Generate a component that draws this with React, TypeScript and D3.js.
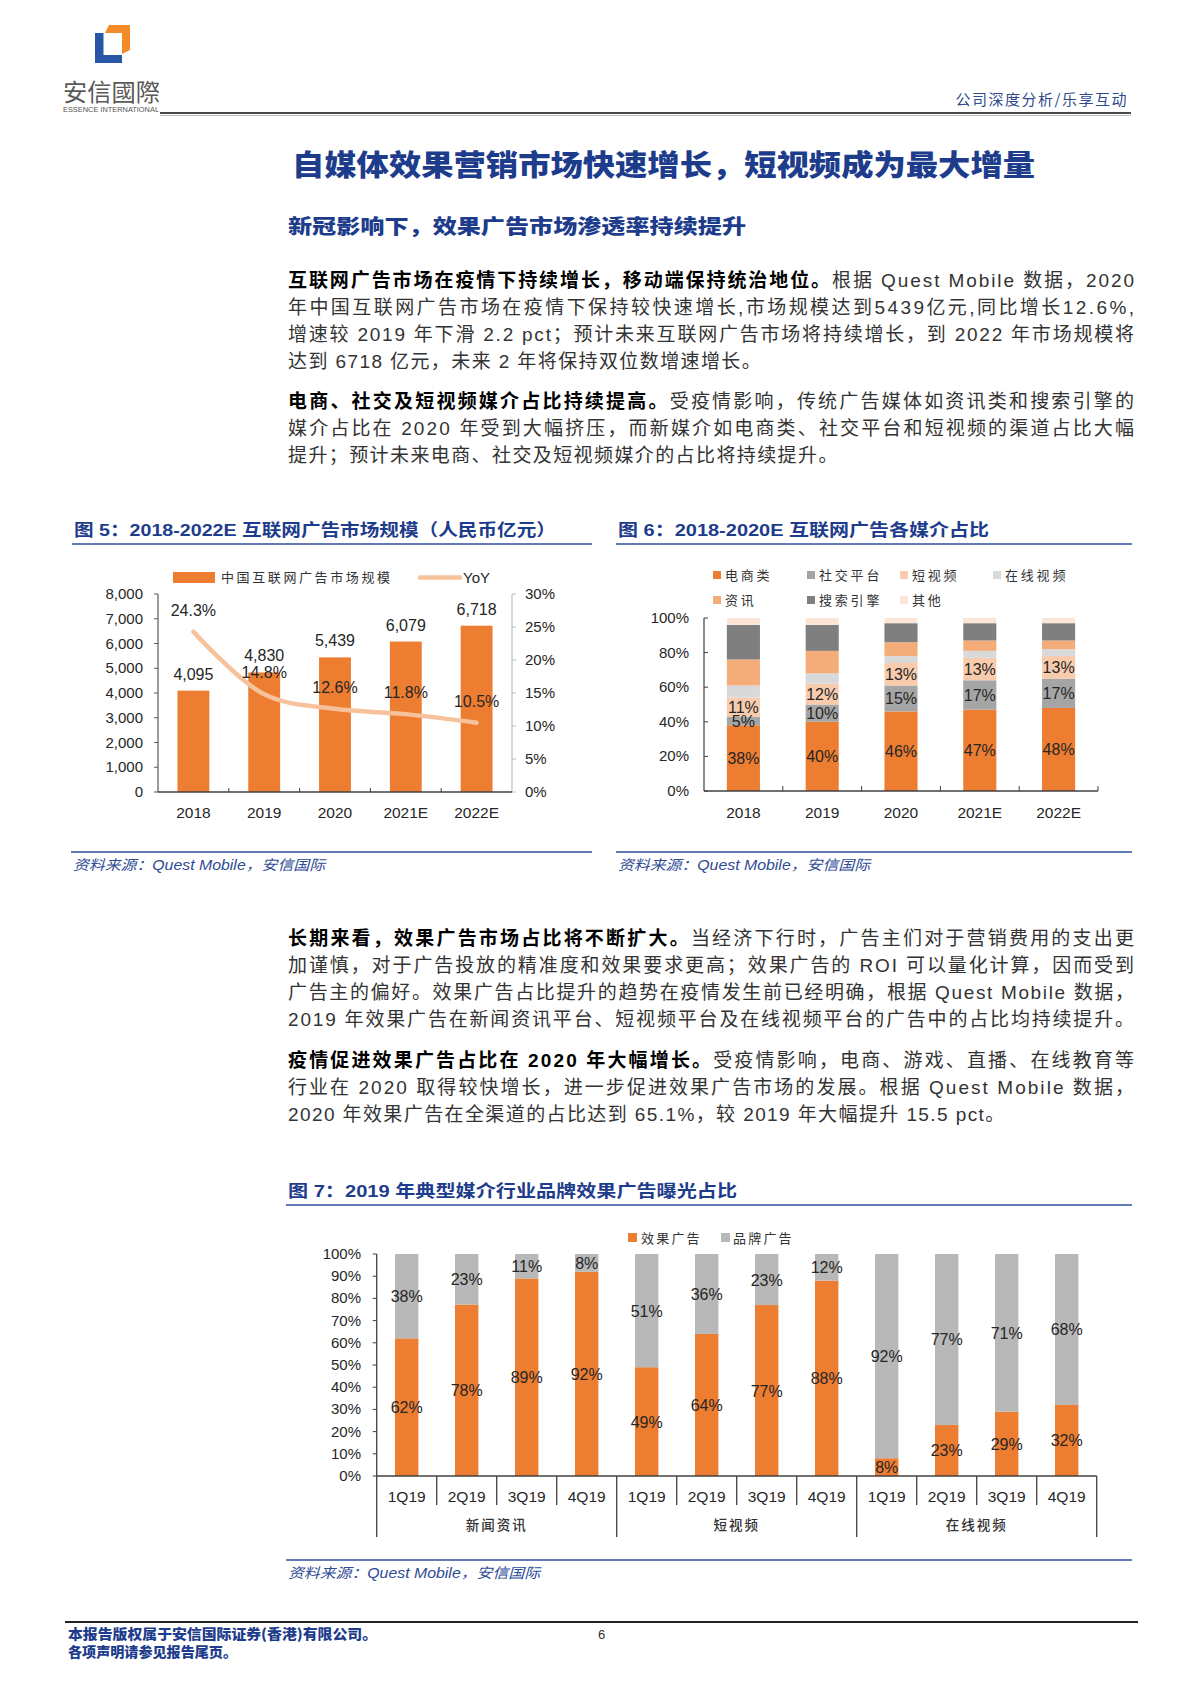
import React from "react";
import * as d3 from "d3";

// ---------- data ----------
const years = ["2018", "2019", "2020", "2021E", "2022E"];
const adMarket = [4095, 4830, 5439, 6079, 6718];
const adYoY = [24.3, 14.8, 12.6, 11.8, 10.5];
const marketTicks = [0, 1000, 2000, 3000, 4000, 5000, 6000, 7000, 8000];
const yoyTicks = [0, 5, 10, 15, 20, 25, 30];

const mediaNames = ["电商类", "社交平台", "短视频", "在线视频", "资讯", "搜索引擎", "其他"];
const mediaColors = ["#ed7d31", "#a5a5a5", "#f8cbad", "#d9d9d9", "#f4ad78", "#7f7f7f", "#fbe5d6"];
const shareEcommerce = [38, 40, 46, 47, 48];
const shareSocial = [5, 10, 15, 17, 17];
const shareShortVideo = [11, 12, 13, 13, 13];
const shareOnlineVideo = [7, 6, 4, 4, 4];
const shareNews = [15, 13, 8, 6, 5];
const shareSearch = [20, 15, 11, 10, 10];
const shareOther = [4, 4, 3, 3, 3];
const shareTicks = [0, 20, 40, 60, 80, 100];

const quarters = ["1Q19", "2Q19", "3Q19", "4Q19"];
const platforms = ["新闻资讯", "短视频", "在线视频"];
const effectAds = [62, 78, 89, 92, 49, 64, 77, 88, 8, 23, 29, 32];
const brandAds = [38, 23, 11, 8, 51, 36, 23, 12, 92, 77, 71, 68];
const pctTicks = [0, 10, 20, 30, 40, 50, 60, 70, 80, 90, 100];

const para1 = [
  { bold: "互联网广告市场在疫情下持续增长，移动端保持统治地位。", text: "根据 Quest Mobile 数据，2020", justify: true },
  { bold: "", text: "年中国互联网广告市场在疫情下保持较快速增长,市场规模达到5439亿元,同比增长12.6%,", justify: true },
  { bold: "", text: "增速较 2019 年下滑 2.2 pct；预计未来互联网广告市场将持续增长，到 2022 年市场规模将", justify: true },
  { bold: "", text: "达到 6718 亿元，未来 2 年将保持双位数增速增长。", justify: false },
];
const para2 = [
  { bold: "电商、社交及短视频媒介占比持续提高。", text: "受疫情影响，传统广告媒体如资讯类和搜索引擎的", justify: true },
  { bold: "", text: "媒介占比在 2020 年受到大幅挤压，而新媒介如电商类、社交平台和短视频的渠道占比大幅", justify: true },
  { bold: "", text: "提升；预计未来电商、社交及短视频媒介的占比将持续提升。", justify: false },
];
const para3 = [
  { bold: "长期来看，效果广告市场占比将不断扩大。", text: "当经济下行时，广告主们对于营销费用的支出更", justify: true },
  { bold: "", text: "加谨慎，对于广告投放的精准度和效果要求更高；效果广告的 ROI 可以量化计算，因而受到", justify: true },
  { bold: "", text: "广告主的偏好。效果广告占比提升的趋势在疫情发生前已经明确，根据 Quest Mobile 数据，", justify: true },
  { bold: "", text: "2019 年效果广告在新闻资讯平台、短视频平台及在线视频平台的广告中的占比均持续提升。", justify: true },
];
const para4 = [
  { bold: "疫情促进效果广告占比在 2020 年大幅增长。", text: "受疫情影响，电商、游戏、直播、在线教育等", justify: true },
  { bold: "", text: "行业在 2020 取得较快增长，进一步促进效果广告市场的发展。根据 Quest Mobile 数据，", justify: true },
  { bold: "", text: "2020 年效果广告在全渠道的占比达到 65.1%，较 2019 年大幅提升 15.5 pct。", justify: false },
];

// ---------- styles ----------
const CJK = "'Noto Sans CJK SC', sans-serif";
const MIX = "'Liberation Sans', Arial, 'Noto Sans CJK SC', sans-serif";
const NAVY = "#1e3c8c";
const RULE = "#2f50a0";
const ORANGE = "#ed7d31";
const INK = "#262626";

const fmt = d3.format(",");

function Paragraph({ lines, top }: { lines: typeof para1; top: number }) {
  return (
    <g fontFamily={MIX} fontSize={19} fill="#333">
      {lines.map((l, i) => (
        <text
          key={i}
          x={288}
          y={top + i * 27.1}
          textLength={l.justify ? 846 : undefined}
          lengthAdjust="spacing"
          letterSpacing={l.justify ? 0 : 1.4}
        >
          {l.bold && (
            <tspan fontWeight={700} fill="#000">
              {l.bold}
            </tspan>
          )}
          <tspan>{l.text}</tspan>
        </text>
      ))}
    </g>
  );
}

function ChartTitle({ x, y, text, len, x2 }: { x: number; y: number; text: string; len: number; x2: number }) {
  return (
    <g>
      <text x={x + 2} y={y} fontFamily={MIX} fontWeight={700} fontSize={17} fill={NAVY} textLength={len} lengthAdjust="spacingAndGlyphs">
        {text}
      </text>
      <line x1={x} x2={x2} y1={y + 8} y2={y + 8} stroke={RULE} strokeWidth={1.6} />
    </g>
  );
}

function Source({ x, y, x2 }: { x: number; y: number; x2: number }) {
  return (
    <g>
      <line x1={x} x2={x2} y1={y} y2={y} stroke={RULE} strokeWidth={1.6} />
      <text x={x + 2} y={y + 18} fontFamily={MIX} fontStyle="italic" fontSize={14} fill="#2f4b95" textLength={252} lengthAdjust="spacingAndGlyphs">
        资料来源：Quest Mobile，安信国际
      </text>
    </g>
  );
}

// ---------- chart 5 ----------
function MarketChart() {
  const x = d3.scaleBand<string>().domain(years).range([158, 512]).paddingInner(0.55).paddingOuter(0.275);
  const yL = d3.scaleLinear().domain([0, 8000]).range([792, 594]);
  const yR = d3.scaleLinear().domain([0, 30]).range([792, 594]);
  const cx = (d: string) => (x(d) as number) + x.bandwidth() / 2;
  const line = d3
    .line<number>()
    .x((_, i) => cx(years[i]))
    .y((d) => yR(d))
    .curve(d3.curveCatmullRom.alpha(0.5));
  const step = x.step();
  return (
    <g fontFamily={MIX} fill={INK}>
      {/* legend */}
      <rect x={173} y={572} width={42} height={11} fill={ORANGE} />
      <text x={221} y={582} fontFamily={CJK} fontSize={13} letterSpacing={2.6} fill="#333">
        中国互联网广告市场规模
      </text>
      <line x1={420} x2={460} y1={577.5} y2={577.5} stroke="#f7c29b" strokeWidth={4.5} strokeLinecap="round" />
      <text x={463} y={583} fontSize={15}>
        YoY
      </text>

      {/* bars */}
      {adMarket.map((v, i) => (
        <g key={i}>
          <rect x={x(years[i])} y={yL(v)} width={x.bandwidth()} height={yL(0) - yL(v)} fill={ORANGE} />
          <text x={cx(years[i])} y={yL(v) - 11} textAnchor="middle" fontSize={16}>
            {fmt(v)}
          </text>
        </g>
      ))}

      {/* axes */}
      <line x1={158} x2={158} y1={594} y2={792} stroke="#595959" strokeWidth={1.2} />
      <line x1={512} x2={512} y1={594} y2={792} stroke="#bfbfbf" strokeWidth={1.2} />
      <line x1={158} x2={512} y1={792} y2={792} stroke="#404040" strokeWidth={1.5} />
      {years.slice(1).map((d, i) => (
        <line key={i} x1={(x(d) as number) - (step - x.bandwidth()) / 2} x2={(x(d) as number) - (step - x.bandwidth()) / 2} y1={792} y2={788} stroke="#404040" />
      ))}
      {marketTicks.map((t) => (
        <g key={t}>
          <line x1={154} x2={158} y1={yL(t)} y2={yL(t)} stroke="#595959" />
          <text x={143} y={yL(t) + 5} textAnchor="end" fontSize={15}>
            {fmt(t)}
          </text>
        </g>
      ))}
      {yoyTicks.map((t) => (
        <g key={t}>
          <line x1={512} x2={516} y1={yR(t)} y2={yR(t)} stroke="#bfbfbf" />
          <text x={525} y={yR(t) + 5} fontSize={15}>
            {t}%
          </text>
        </g>
      ))}
      {years.map((d) => (
        <text key={d} x={cx(d)} y={818} textAnchor="middle" fontSize={15.5}>
          {d}
        </text>
      ))}

      {/* YoY line */}
      <path d={line(adYoY) || ""} fill="none" stroke="#f7c29b" strokeWidth={4.5} strokeLinecap="round" />
      {adYoY.map((v, i) => (
        <text key={i} x={cx(years[i])} y={yR(v) - 16} textAnchor="middle" fontSize={16}>
          {v.toFixed(1)}%
        </text>
      ))}
    </g>
  );
}

// ---------- chart 6 ----------
function MediaChart() {
  const series = [shareEcommerce, shareSocial, shareShortVideo, shareOnlineVideo, shareNews, shareSearch, shareOther];
  const rows = years.map((_, j) => {
    const r: Record<string, number> = {};
    series.forEach((s, k) => (r[mediaNames[k]] = s[j]));
    return r;
  });
  const stacked = d3.stack<Record<string, number>>().keys(mediaNames)(rows);
  const x = d3.scaleBand<string>().domain(years).range([704, 1098]).paddingInner(0.58).paddingOuter(0.29);
  const y = d3.scaleLinear().domain([0, 100]).range([791, 618]);
  const step = x.step();
  const legendX = [713, 807, 900, 993];
  return (
    <g fontFamily={MIX} fill={INK}>
      {mediaNames.map((n, i) => (
        <g key={n}>
          <rect x={legendX[i % 4]} y={571 + Math.floor(i / 4) * 25} width={8} height={8} fill={mediaColors[i]} />
          <text x={legendX[i % 4] + 12} y={580 + Math.floor(i / 4) * 25} fontFamily={CJK} fontSize={13} letterSpacing={2.8} fill="#333">
            {n}
          </text>
        </g>
      ))}
      {stacked.map((s, k) => (
        <g key={k}>
          {s.map((d, j) => (
            <rect key={j} x={x(years[j])} y={y(d[1])} width={x.bandwidth()} height={y(d[0]) - y(d[1])} fill={mediaColors[k]} />
          ))}
        </g>
      ))}
      {stacked.slice(0, 3).map((s, k) => (
        <g key={k}>
          {s.map((d, j) => (
            <text key={j} x={(x(years[j]) as number) + x.bandwidth() / 2} y={y((d[0] + d[1]) / 2) + 6} textAnchor="middle" fontSize={16}>
              {d[1] - d[0]}%
            </text>
          ))}
        </g>
      ))}
      <line x1={704} x2={704} y1={618} y2={791} stroke="#404040" strokeWidth={1.2} />
      <line x1={704} x2={1098} y1={791} y2={791} stroke="#404040" strokeWidth={1.5} />
      {years.map((_, i) => {
        const xx = 704 + step * (i + 1);
        return <line key={i} x1={xx} x2={xx} y1={791} y2={786} stroke="#404040" />;
      })}
      {shareTicks.map((t) => (
        <g key={t}>
          <line x1={704} x2={708} y1={y(t)} y2={y(t)} stroke="#404040" />
          <text x={689} y={y(t) + 5} textAnchor="end" fontSize={15}>
            {t}%
          </text>
        </g>
      ))}
      {years.map((d) => (
        <text key={d} x={(x(d) as number) + x.bandwidth() / 2} y={818} textAnchor="middle" fontSize={15.5}>
          {d}
        </text>
      ))}
    </g>
  );
}

// ---------- chart 7 ----------
function ExposureChart() {
  const labels = platforms.flatMap((p) => quarters.map((q) => `${p}-${q}`));
  const rows = labels.map((_, i) => ({ effect: effectAds[i], brand: brandAds[i] }));
  const stacked = d3.stack<{ effect: number; brand: number }>().keys(["effect", "brand"]).offset(d3.stackOffsetExpand)(rows);
  const raw = [effectAds, brandAds];
  const colors = [ORANGE, "#b8b8b8"];
  const x0 = 376.7;
  const x = d3.scaleBand<string>().domain(labels).range([x0, x0 + 720]).paddingInner(0.61).paddingOuter(0.305);
  const y = d3.scaleLinear().domain([0, 1]).range([1476, 1254]);
  const yt = d3.scaleLinear().domain([0, 100]).range([1476, 1254]);
  const step = x.step();
  return (
    <g fontFamily={MIX} fill={INK}>
      <rect x={628} y={1233} width={9} height={9} fill={ORANGE} />
      <text x={641} y={1242.5} fontFamily={CJK} fontSize={13} letterSpacing={2.2} fill="#333">
        效果广告
      </text>
      <rect x={721} y={1233} width={9} height={9} fill="#b8b8b8" />
      <text x={733} y={1242.5} fontFamily={CJK} fontSize={13} letterSpacing={2.2} fill="#333">
        品牌广告
      </text>
      {stacked.map((s, k) => (
        <g key={k}>
          {s.map((d, j) => (
            <rect key={j} x={x(labels[j])} y={y(d[1])} width={x.bandwidth()} height={y(d[0]) - y(d[1])} fill={colors[k]} />
          ))}
        </g>
      ))}
      {stacked.map((s, k) => (
        <g key={k}>
          {s.map((d, j) => (
            <text key={j} x={(x(labels[j]) as number) + x.bandwidth() / 2} y={y((d[0] + d[1]) / 2) + 6} textAnchor="middle" fontSize={16}>
              {raw[k][j]}%
            </text>
          ))}
        </g>
      ))}
      <line x1={x0} x2={x0} y1={1254} y2={1537} stroke="#404040" strokeWidth={1.3} />
      <line x1={x0} x2={x0 + 720} y1={1476} y2={1476} stroke="#404040" strokeWidth={1.5} />
      {labels.map((_, i) => {
        const xx = x0 + step * (i + 1);
        const groupEdge = (i + 1) % 4 === 0;
        return <line key={i} x1={xx} x2={xx} y1={1476} y2={groupEdge ? 1537 : 1505} stroke="#404040" strokeWidth={1.3} />;
      })}
      {pctTicks.map((t) => (
        <g key={t}>
          <line x1={x0 - 4} x2={x0} y1={yt(t)} y2={yt(t)} stroke="#404040" />
          <text x={361} y={yt(t) + 5} textAnchor="end" fontSize={15}>
            {t}%
          </text>
        </g>
      ))}
      {labels.map((l, i) => (
        <text key={l} x={(x(l) as number) + x.bandwidth() / 2} y={1502} textAnchor="middle" fontSize={15.5}>
          {quarters[i % 4]}
        </text>
      ))}
      {platforms.map((p, g) => (
        <text key={p} x={x0 + step * (g * 4 + 2)} y={1530} textAnchor="middle" fontFamily={CJK} fontWeight={500} fontSize={13.5} letterSpacing={2} fill="#333">
          {p}
        </text>
      ))}
    </g>
  );
}

export default function App() {
  return (
    <div style={{ position: "absolute", left: 0, top: 0 }}>
      <svg width={1200} height={1698} viewBox="0 0 1200 1698" style={{ display: "block", background: "#fff" }}>
        {/* header */}
        <polygon points="95,33 103.5,33 103.5,55 122,55 122,63 95,63" fill="#2856a6" />
        <polygon points="109,25 130,25 130,50 122,54 122,33 105,33" fill="#f28c28" />
        <text x={63} y={101} fontFamily={CJK} fontSize={24} fill="#595959" textLength={97} lengthAdjust="spacingAndGlyphs">
          安信國際
        </text>
        <text x={63} y={112} fontFamily="'Liberation Sans Narrow','Liberation Sans',Arial" fontSize={7.5} fill="#555" textLength={96} lengthAdjust="spacingAndGlyphs">
          ESSENCE INTERNATIONAL
        </text>
        <line x1={160} x2={1131} y1={113} y2={113} stroke="#4a4a4a" strokeWidth={2.2} />
        <line x1={160} x2={1131} y1={115.5} y2={115.5} stroke="#bdbdbd" strokeWidth={1} />
        <text x={1128} y={105} textAnchor="end" fontFamily={CJK} fontSize={15} fill="#2e4a8b" letterSpacing={1.5}>
          公司深度分析/乐享互动
        </text>

        <text x={292} y={176} fontFamily={CJK} fontWeight={900} fontSize={29} fill={NAVY} textLength={743} lengthAdjust="spacingAndGlyphs">
          自媒体效果营销市场快速增长，短视频成为最大增量
        </text>
        <text x={288} y={234} fontFamily={CJK} fontWeight={900} fontSize={20} fill={NAVY} textLength={458} lengthAdjust="spacingAndGlyphs">
          新冠影响下，效果广告市场渗透率持续提升
        </text>

        <Paragraph lines={para1} top={287} />
        <Paragraph lines={para2} top={408} />

        <ChartTitle x={72} y={536} text="图 5：2018-2022E 互联网广告市场规模（人民币亿元）" len={482} x2={592} />
        <ChartTitle x={616} y={536} text="图 6：2018-2020E 互联网广告各媒介占比" len={371} x2={1132} />
        <MarketChart />
        <MediaChart />
        <Source x={71} y={852} x2={592} />
        <Source x={616} y={852} x2={1132} />

        <Paragraph lines={para3} top={945} />
        <Paragraph lines={para4} top={1067} />

        <ChartTitle x={286} y={1197} text="图 7：2019 年典型媒介行业品牌效果广告曝光占比" len={449} x2={1132} />
        <ExposureChart />
        <Source x={286} y={1560} x2={1132} />

        {/* footer */}
        <line x1={65} x2={1138} y1={1622} y2={1622} stroke="#222" strokeWidth={2} />
        <text x={68} y={1639} fontFamily={CJK} fontWeight={900} fontSize={14} fill={NAVY} textLength={309} lengthAdjust="spacingAndGlyphs">
          本报告版权属于安信国际证券(香港)有限公司。
        </text>
        <text x={68} y={1657} fontFamily={CJK} fontWeight={900} fontSize={14} fill={NAVY} textLength={169} lengthAdjust="spacingAndGlyphs">
          各项声明请参见报告尾页。
        </text>
        <text x={598} y={1639} fontFamily={MIX} fontSize={13} fill="#333">
          6
        </text>
      </svg>
    </div>
  );
}
